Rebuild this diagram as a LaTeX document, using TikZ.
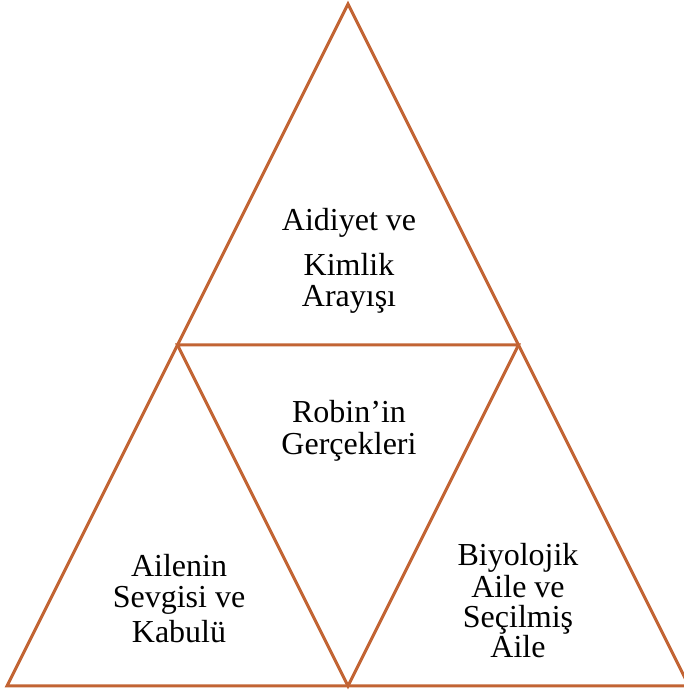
\documentclass[tikz,border=0pt]{standalone}
\usepackage{fontspec}
\setmainfont{Liberation Serif}
\usetikzlibrary{calc}
\definecolor{triline}{RGB}{194,100,52}
\tikzset{
  edge/.style={draw=triline, line width=3pt, line join=miter},
  lbl/.style={anchor=base, inner sep=0pt, font=\fontsize{32}{36}\selectfont, text=black}
}
\begin{document}
\begin{tikzpicture}[x=1pt,y=1pt]
\useasboundingbox (0,0) rectangle (683,692);
\coordinate (A) at (348,688);
\coordinate (L) at (7,6);
\coordinate (R) at (689,6);
\coordinate (ML) at ($(A)!0.5!(L)$);
\coordinate (MR) at ($(A)!0.5!(R)$);
\coordinate (MB) at ($(L)!0.5!(R)$);
\draw[edge] (A) -- (L) -- (R) -- cycle;
\draw[edge] (ML) -- (MR) -- (MB) -- cycle;
% top
\node[lbl] (t1) at (349,461) {Aidiyet ve};
\node[lbl] (t2) at (349,416) {Kimlik};
\node[lbl] (t3) at (349,385) {Arayışı};
% middle
\node[lbl] (m1) at (349,269) {Robin’in};
\node[lbl] (m2) at (349,237) {Gerçekleri};
% left
\node[lbl] (l1) at (179,115) {Ailenin};
\node[lbl] (l2) at (179,84) {Sevgisi ve};
\node[lbl] (l3) at (179,49) {Kabulü};
% right
\node[lbl] (r1) at (518,126) {Biyolojik};
\node[lbl] (r2) at (518,94) {Aile ve};
\node[lbl] (r3) at (518,64) {Seçilmiş};
\node[lbl] (r4) at (518,34) {Aile};
\end{tikzpicture}
\end{document}
